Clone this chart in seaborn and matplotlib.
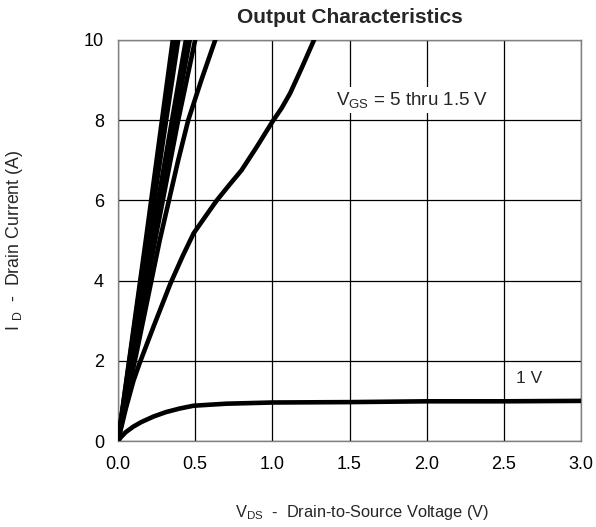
import matplotlib
matplotlib.use("Agg")
import matplotlib.pyplot as plt
import seaborn as sns
import pandas as pd

# Gate voltages for each drawn curve
vgs_labels = ["5", "4.5", "4", "3.5", "3", "2.5", "2", "1.5", "1"]

# Drain-source voltage (V) and drain current (A) along each curve
vds_5v = [0.0, 0.18, 0.355]
id_5v = [0.0, 5.0, 10.0]
vds_45v = [0.0, 0.185, 0.37]
id_45v = [0.0, 5.0, 10.0]
vds_4v = [0.0, 0.195, 0.39]
id_4v = [0.0, 5.0, 10.0]
vds_35v = [0.0, 0.215, 0.44]
id_35v = [0.0, 5.0, 10.0]
vds_3v = [0.0, 0.225, 0.465]
id_3v = [0.0, 5.0, 10.0]
vds_25v = [0.0, 0.24, 0.39, 0.50]
id_25v = [0.0, 5.0, 8.0, 10.0]
vds_2v = [0.0, 0.12, 0.27, 0.33, 0.39, 0.455, 0.54, 0.63]
id_2v = [0.0, 2.2, 5.0, 6.0, 7.0, 8.0, 9.0, 10.0]
vds_15v = [0.0, 0.05, 0.10, 0.14, 0.23, 0.34, 0.42, 0.49, 0.57, 0.64, 0.72, 0.80,
           0.90, 1.0, 1.06, 1.115, 1.19, 1.27]
id_15v = [0.0, 0.8, 1.5, 1.94, 2.85, 3.93, 4.62, 5.18, 5.62, 6.0, 6.38, 6.75,
          7.34, 7.96, 8.3, 8.67, 9.3, 10.0]
vds_1v = [0.0, 0.02, 0.05, 0.10, 0.15, 0.23, 0.31, 0.40, 0.49, 0.7, 1.0, 1.5, 2.0, 2.5, 3.0]
id_1v = [0.0, 0.1, 0.22, 0.36, 0.47, 0.61, 0.72, 0.81, 0.88, 0.93, 0.96, 0.97, 0.99, 0.99, 1.0]

x_ticks = [0.0, 0.5, 1.0, 1.5, 2.0, 2.5, 3.0]
y_ticks = [0, 2, 4, 6, 8, 10]

curves = [
    (vds_5v, id_5v), (vds_45v, id_45v), (vds_4v, id_4v), (vds_35v, id_35v),
    (vds_3v, id_3v), (vds_25v, id_25v), (vds_2v, id_2v), (vds_15v, id_15v),
    (vds_1v, id_1v),
]
frames = []
for label, (vx, iy) in zip(vgs_labels, curves):
    frames.append(pd.DataFrame({"Vds": vx, "Id": iy, "Vgs": label}))
df = pd.concat(frames, ignore_index=True)

sns.set_style("white")
plt.rcParams["font.family"] = ["Liberation Sans", "DejaVu Sans"]
plt.rcParams["mathtext.fontset"] = "custom"
plt.rcParams["mathtext.rm"] = "Liberation Sans"
plt.rcParams["mathtext.default"] = "regular"

fig = plt.figure(figsize=(5.96, 5.27), dpi=100)
ax = fig.add_axes([118 / 596, 1 - 441 / 527, 463 / 596, 401 / 527])

sns.lineplot(
    data=df, x="Vds", y="Id", hue="Vgs", hue_order=vgs_labels,
    palette=["black"] * len(vgs_labels), sort=False, estimator=None,
    linewidth=3.3, legend=False, ax=ax, clip_on=True, zorder=3,
)
for line in ax.get_lines():
    line.set_solid_joinstyle("round")
    line.set_solid_capstyle("round")

ax.set_xlim(0, 3.0)
ax.set_ylim(0, 10)
ax.set_xticks(x_ticks)
ax.set_xticklabels([f"{t:.1f}" for t in x_ticks])
ax.set_yticks(y_ticks)
ax.set_yticklabels([str(t) for t in y_ticks])
ax.tick_params(axis="both", length=0, labelsize=13, colors="black")
ax.tick_params(axis="x", pad=11)
ax.tick_params(axis="y", pad=10)
ax.grid(True, color="black", linewidth=0.9)
ax.set_axisbelow(True)
for s in ax.spines.values():
    s.set_color("#808080")
    s.set_linewidth(1.0)

ax.set_title("Output Characteristics", fontsize=15, fontweight="bold", pad=12)
ax.set_xlabel("V$_{DS}$  -  Drain-to-Source Voltage (V)", fontsize=11.8)
ax.set_ylabel("I $_{D}$  -  Drain Current (A)", fontsize=12.8)
ax.xaxis.set_label_coords(0.528, -0.155)
ax.yaxis.set_label_coords(-0.200, 0.50)

ax.text(1.41, 8.5, "V$_{GS}$ = 5 thru 1.5 V", fontsize=13.5, va="center", ha="left",
        zorder=4, bbox=dict(facecolor="white", edgecolor="none", pad=2))
ax.text(2.58, 1.57, "1 V", fontsize=12.5, va="center", ha="left",
        zorder=4, bbox=dict(facecolor="white", edgecolor="none", pad=2))

fig.savefig("out.png", dpi=100)
